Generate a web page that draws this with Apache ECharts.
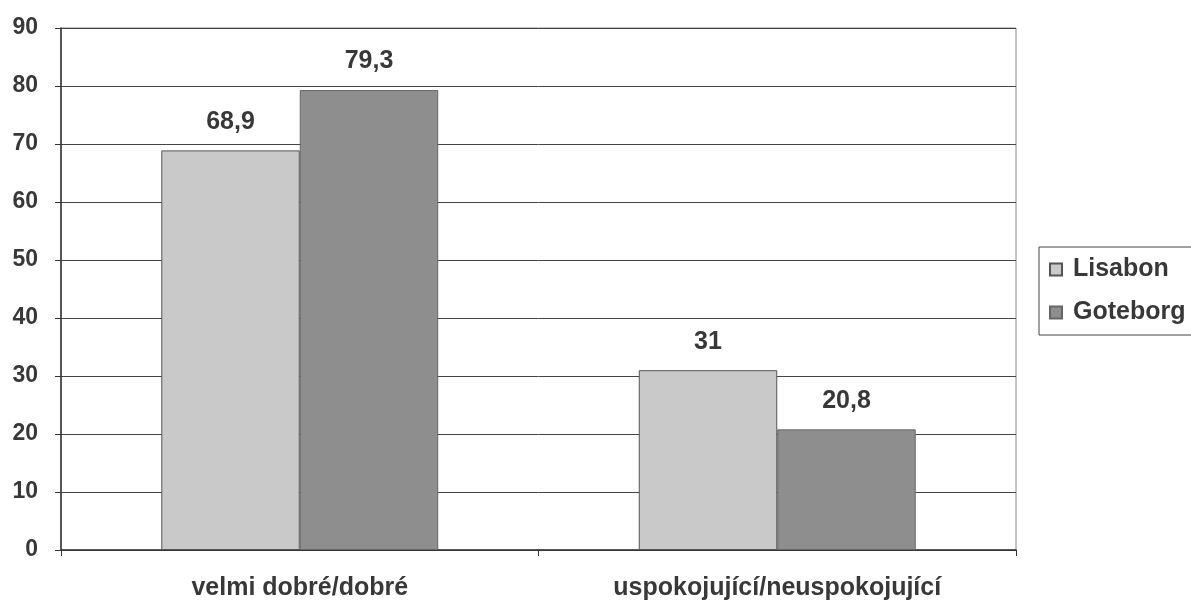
<!DOCTYPE html>
<html><head><meta charset="utf-8">
<script src="https://cdn.jsdelivr.net/npm/echarts@6/dist/echarts.min.js"></script>
<style>html,body{margin:0;padding:0;background:#fff}#c{width:1191px;height:606px}</style>
</head><body><div id="c"></div>
<script>
const categories = ['velmi dobré/dobré', 'uspokojující/neuspokojující'];
const seriesNames = ['Lisabon', 'Goteborg'];
const lisabon = [68.9, 31];
const goteborg = [79.3, 20.8];
const colors = ['#c9c9c9', '#8e8e8e'];
const font = '"Liberation Sans", Arial, sans-serif';
const chart = echarts.init(document.getElementById('c'));
const lbl = {
  show: true, position: 'top', distance: 16,
  fontFamily: font, fontWeight: 'bold', fontSize: 25, color: '#383838',
  formatter: p => String(p.value).replace('.', ',')
};
chart.setOption({
  animation: false,
  grid: { left: 61, right: 175, top: 28, bottom: 56, show: true, borderColor: '#888', borderWidth: 1, backgroundColor: 'transparent' },
  legend: {
    orient: 'vertical', left: 1039, top: 247,
    data: seriesNames, icon: 'rect', itemWidth: 12, itemHeight: 12, itemGap: 18,
    padding: [10, 30, 10, 10],
    borderColor: '#444', borderWidth: 1,
    textStyle: { fontFamily: font, fontWeight: 'bold', fontSize: 25, color: '#383838', padding: [0, 0, 0, 6] }
  },
  xAxis: {
    type: 'category', data: categories,
    axisLine: { lineStyle: { color: '#333', width: 1.5 } },
    axisTick: { show: true, length: 6, lineStyle: { color: '#333' } },
    axisLabel: { margin: 26, fontFamily: font, fontWeight: 'bold', fontSize: 25, color: '#383838' }
  },
  yAxis: {
    type: 'value', min: 0, max: 90, interval: 10,
    axisLine: { show: true, lineStyle: { color: '#333', width: 1.5 } },
    axisTick: { show: true, length: 6, lineStyle: { color: '#333' } },
    axisLabel: { margin: 23, fontFamily: font, fontWeight: 'bold', fontSize: 23, color: '#383838' },
    splitLine: { lineStyle: { color: '#444', width: 1 } }
  },
  series: [
    { name: seriesNames[0], type: 'bar', data: lisabon, barGap: '0%', barCategoryGap: '42%',
      itemStyle: { color: colors[0], borderColor: '#555', borderWidth: 1 }, label: lbl },
    { name: seriesNames[1], type: 'bar', data: goteborg,
      itemStyle: { color: colors[1], borderColor: '#666', borderWidth: 1 }, label: lbl }
  ]
});
</script></body></html>
